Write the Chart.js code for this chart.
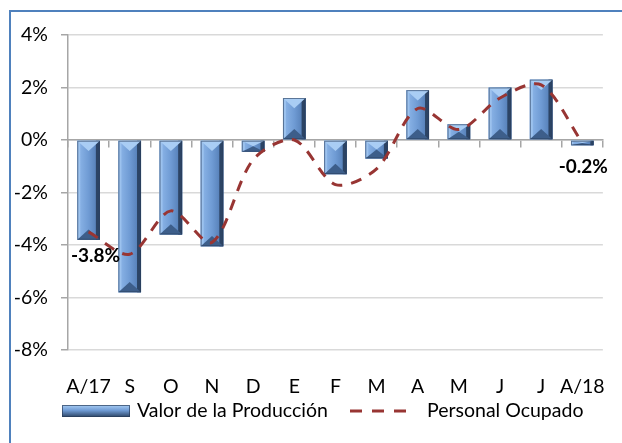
<!DOCTYPE html>
<html>
<head>
<meta charset="utf-8">
<script src="https://cdn.jsdelivr.net/npm/chart.js@4"></script>
<style>
  body { margin: 0; background: #fff; }
  #wrap { position: relative; width: 622px; height: 443px; overflow: hidden; }
  #frame { position: absolute; left: 9px; top: 10px; width: 700px; height: 500px; border: 2px solid #4f81bd; }
  canvas { position: absolute; left: 0; top: 0; }
</style>
</head>
<body>
<div id="wrap">
  <div id="frame"></div>
  <canvas id="chart" width="622" height="443"></canvas>
</div>
<script>
// --- données ---
const categories = ['A/17', 'S', 'O', 'N', 'D', 'E', 'F', 'M', 'A', 'M', 'J', 'J', 'A/18'];
const valorProduccion = [-3.8, -5.8, -3.6, -4.05, -0.45, 1.6, -1.3, -0.7, 1.9, 0.6, 2.0, 2.3, -0.2];
const personalOcupado = [-3.5, -4.35, -2.7, -3.9, -0.75, 0.0, -1.7, -1.1, 1.2, 0.4, 1.6, 2.1, -0.1];
const seriesNames = ['Valor de la Producción', 'Personal Ocupado'];
const labelledBars = [0, 12]; // barres avec étiquette de valeur

const FONT = 'Lato, "Open Sans", sans-serif';
const LINE_RED = '#983533';

// barres biseautées façon Excel
const bevelBars = {
  id: 'bevelBars',
  afterDatasetDraw(chart, args) {
    if (args.index !== 0) return;
    const ctx = chart.ctx;
    args.meta.data.forEach(bar => {
      const L = bar.x - bar.width / 2, R = bar.x + bar.width / 2;
      const T = Math.min(bar.y, bar.base), B = Math.max(bar.y, bar.base);
      const h = B - T, w = R - L;
      const d = Math.min(w / 2 - 1, h / 2);
      const s = Math.min(3, h / 2);
      ctx.save();
      // face
      const g = ctx.createLinearGradient(L, 0, R, 0);
      g.addColorStop(0, '#8fb8ea');
      g.addColorStop(0.5, '#6f9bd4');
      g.addColorStop(1, '#4d76ad');
      ctx.fillStyle = g;
      ctx.fillRect(L, T, w, h);
      // côtés
      ctx.fillStyle = '#9cc2ee';
      ctx.fillRect(L, T, s, h);
      ctx.fillStyle = '#2c4465';
      ctx.fillRect(R - s - 1, T, s + 1, h);
      // biseau haut (clair)
      ctx.fillStyle = '#a9cdf4';
      ctx.beginPath();
      ctx.moveTo(L, T); ctx.lineTo(R, T); ctx.lineTo(bar.x, T + d); ctx.closePath();
      ctx.fill();
      // biseau bas (sombre)
      ctx.fillStyle = '#3d5e8a';
      ctx.beginPath();
      ctx.moveTo(L, B); ctx.lineTo(R, B); ctx.lineTo(bar.x, B - d); ctx.closePath();
      ctx.fill();
      ctx.strokeStyle = 'rgba(40,60,90,0.6)';
      ctx.lineWidth = 1;
      ctx.strokeRect(L + 0.5, T + 0.5, w - 1, h - 1);
      ctx.restore();
    });
  }
};

// étiquettes -3.8% / -0.2%
const valueLabels = {
  id: 'valueLabels',
  afterDatasetsDraw(chart) {
    const ctx = chart.ctx;
    const meta = chart.getDatasetMeta(0);
    const offsets = { 0: [7, 16], 12: [1, 22] };
    ctx.save();
    ctx.font = 'bold 19px ' + FONT;
    ctx.fillStyle = '#000';
    ctx.textAlign = 'center';
    ctx.textBaseline = 'middle';
    labelledBars.forEach(i => {
      const bar = meta.data[i];
      const v = valorProduccion[i];
      const [dx, dy] = offsets[i];
      ctx.fillText(v.toFixed(1) + '%', bar.x + dx, Math.max(bar.y, bar.base) + dy);
    });
    ctx.restore();
  }
};

// légende dessinée à la main
const customLegend = {
  id: 'customLegend',
  afterDraw(chart) {
    const ctx = chart.ctx;
    const y = 411;
    ctx.save();
    // symbole barre
    const g = ctx.createLinearGradient(0, y - 6, 0, y + 6);
    g.addColorStop(0, '#a9cdf4');
    g.addColorStop(0.45, '#6f9bd4');
    g.addColorStop(1, '#2c4465');
    ctx.fillStyle = g;
    ctx.fillRect(62, y - 6, 68, 12);
    ctx.strokeStyle = 'rgba(40,60,90,0.7)';
    ctx.strokeRect(62.5, y - 5.5, 67, 11);
    // symbole ligne
    ctx.strokeStyle = LINE_RED;
    ctx.lineWidth = 3;
    ctx.setLineDash([12, 10]);
    ctx.beginPath();
    ctx.moveTo(350, y); ctx.lineTo(408, y);
    ctx.stroke();
    ctx.setLineDash([]);
    ctx.font = '19.5px ' + FONT;
    ctx.fillStyle = '#000';
    ctx.textBaseline = 'middle';
    ctx.fillText(seriesNames[0], 137, y);
    ctx.fillText(seriesNames[1], 427, y);
    ctx.restore();
  }
};

new Chart(document.getElementById('chart'), {
  type: 'bar',
  data: {
    labels: categories,
    datasets: [
      {
        type: 'bar',
        label: seriesNames[0],
        data: valorProduccion,
        backgroundColor: '#6f9bd4',
        categoryPercentage: 1,
        barPercentage: 0.55,
        order: 1
      },
      {
        type: 'line',
        label: seriesNames[1],
        data: personalOcupado,
        borderColor: LINE_RED,
        borderWidth: 3,
        borderDash: [11, 9],
        pointRadius: 0,
        tension: 0.3,
        fill: false,
        order: 0
      }
    ]
  },
  options: {
    responsive: false,
    animation: false,
    devicePixelRatio: 1,
    layout: { padding: { top: 35, right: 10, left: 0, bottom: 0 } },
    plugins: { legend: { display: false }, tooltip: { enabled: false } },
    scales: {
      x: {
        position: { y: 0 },
        offset: true,
        ticks: { display: false },
        grid: { drawOnChartArea: false, tickLength: 7, tickColor: '#a6a6a6', lineWidth: 1.5, offset: true },
        border: { color: '#a6a6a6', width: 1.5 }
      },
      x2: {
        type: 'category',
        labels: categories,
        position: 'bottom',
        offset: true,
        grid: { display: false },
        border: { display: false },
        ticks: { color: '#000', font: { family: FONT, size: 19.5 }, padding: 17, maxRotation: 0, autoSkip: false },
        afterFit(scale) { scale.height = 93; }
      },
      y: {
        min: -8,
        max: 4,
        ticks: { stepSize: 2, color: '#000', font: { family: FONT, size: 19.5 }, padding: 13, callback: v => v + '%' },
        grid: { color: '#d9d9d9', lineWidth: 1.5, tickLength: 7, tickColor: '#a6a6a6' },
        border: { color: '#a6a6a6', width: 1.5 },
        afterFit(scale) { scale.width = 68; }
      }
    }
  },
  plugins: [bevelBars, valueLabels, customLegend]
});
</script>
</body>
</html>
